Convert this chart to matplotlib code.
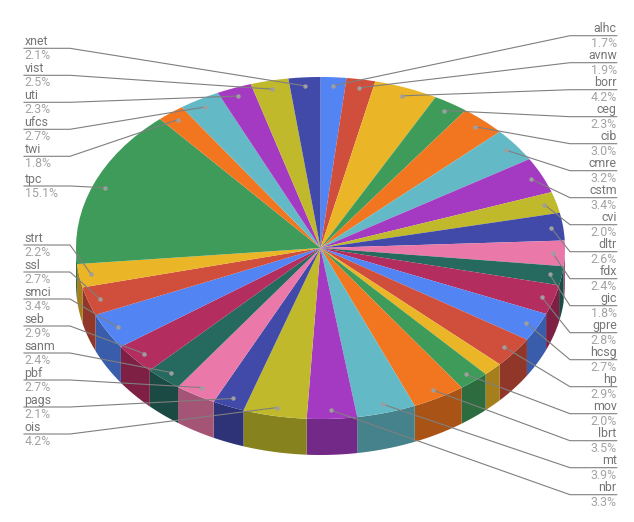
import numpy as np
import matplotlib
matplotlib.use('Agg')
import matplotlib.pyplot as plt
from matplotlib.colors import to_rgb

plt.rcParams['font.family'] = ['Roboto', 'DejaVu Sans']

# slices clockwise from 12 o'clock; the yellow slice after hp has no label in the chart
names = ['alhc', 'avnw', 'borr', 'ceg', 'cib', 'cmre', 'cstm', 'cvi', 'dltr', 'fdx', 'gic',
         'gpre', 'hcsg', 'hp', '', 'mov', 'lbrt', 'mt', 'nbr', 'ois', 'pags', 'pbf', 'sanm',
         'seb', 'smci', 'ssl', 'strt', 'tpc', 'twi', 'ufcs', 'uti', 'vist', 'xnet']
values = [1.7, 1.9, 4.2, 2.3, 3.0, 3.2, 3.4, 2.0, 2.6, 2.4, 1.8,
          2.8, 2.7, 2.9, 1.3, 2.0, 3.5, 3.9, 3.3, 4.2, 2.1, 2.7, 2.4,
          2.9, 3.4, 2.7, 2.2, 15.1, 1.8, 2.7, 2.3, 2.5, 2.1]
palette = ['#5284F4', '#CF4F3C', '#EAB526', '#3F9B5A', '#F27620', '#63BAC6',
           '#A43AC2', '#C0B92B', '#4149A9', '#EA79A9', '#25695F', '#B32D5F']

# label slot heights (y of the horizontal rule), px; left column runs bottom to top
right_slots = [35.7 + 27 * i for i in range(18)]
left_slots = [48.3 + 27 * i for i in range(5)] + [186.0] + [245.0 + 27 * i for i in range(8)]
left_slots = left_slots[::-1]

W, H = 634, 522
CX, CY, RX, RY = 320.5, 248.0, 244.5, 171.0
DEPTH = 36.0

colors = [palette[i % len(palette)] for i in range(len(values))]

fig = plt.figure(figsize=(W / 100, H / 100), dpi=100)
ax = fig.add_axes([0, 0, 1, 1])
ax.pie(values, colors=colors, startangle=90, counterclock=False,
       wedgeprops={'linewidth': 0, 'zorder': 3})
ax.set_aspect('auto')
ax.set_xlim(-CX / RX, (W - CX) / RX)
ax.set_ylim((CY - H) / RY, CY / RY)

# overlay in pixel coords for labels
ov = fig.add_axes([0, 0, 1, 1])
ov.set_xlim(0, W)
ov.set_ylim(H, 0)
ov.axis('off')
ov.patch.set_alpha(0)

edges = np.concatenate([[0], np.cumsum(values)]) / np.sum(values) * 2 * np.pi

# side wall, front half only
d = DEPTH / RY
for a0, a1, c in zip(edges[:-1], edges[1:], colors):
    lo, hi = max(a0, np.pi / 2), min(a1, 3 * np.pi / 2)
    if hi <= lo:
        continue
    t = np.linspace(lo, hi, 40)
    xs = np.concatenate([np.sin(t), np.sin(t[::-1])])
    ys = np.concatenate([np.cos(t), np.cos(t[::-1]) - d])
    ax.fill(xs, ys, color=tuple(v * 0.7 for v in to_rgb(c)), lw=0, zorder=1)

# leader lines and text
mids = (edges[:-1] + edges[1:]) / 2
r_i, l_i = 0, 0
for name, val, mid in zip(names, values, mids):
    if not name:
        continue
    px = CX + 0.95 * RX * np.sin(mid)
    py = CY - 0.95 * RY * np.cos(mid)
    if mid < np.pi:
        y = right_slots[r_i]
        r_i += 1
        xline = [616.7, 570, px]
        tx, ha = 616.7, 'right'
    else:
        y = left_slots[l_i]
        l_i += 1
        xline = [24, 70, px]
        tx, ha = 24.5, 'left'
    ov.plot(xline, [y, y, py], color='#7f7f7f', lw=0.8, solid_joinstyle='round', zorder=5)
    ov.plot([px], [py], 'o', color='#9e9e9e', ms=3.2, mew=0, zorder=6)
    ov.text(tx, y - 3.3, name, ha=ha, va='baseline', fontsize=8.9, color='#757575')
    ov.text(tx, y + 11, f'{val:.1f}%', ha=ha, va='baseline', fontsize=8.9, color='#a3a3a3')

fig.savefig('out.png', dpi=100, facecolor='white')
